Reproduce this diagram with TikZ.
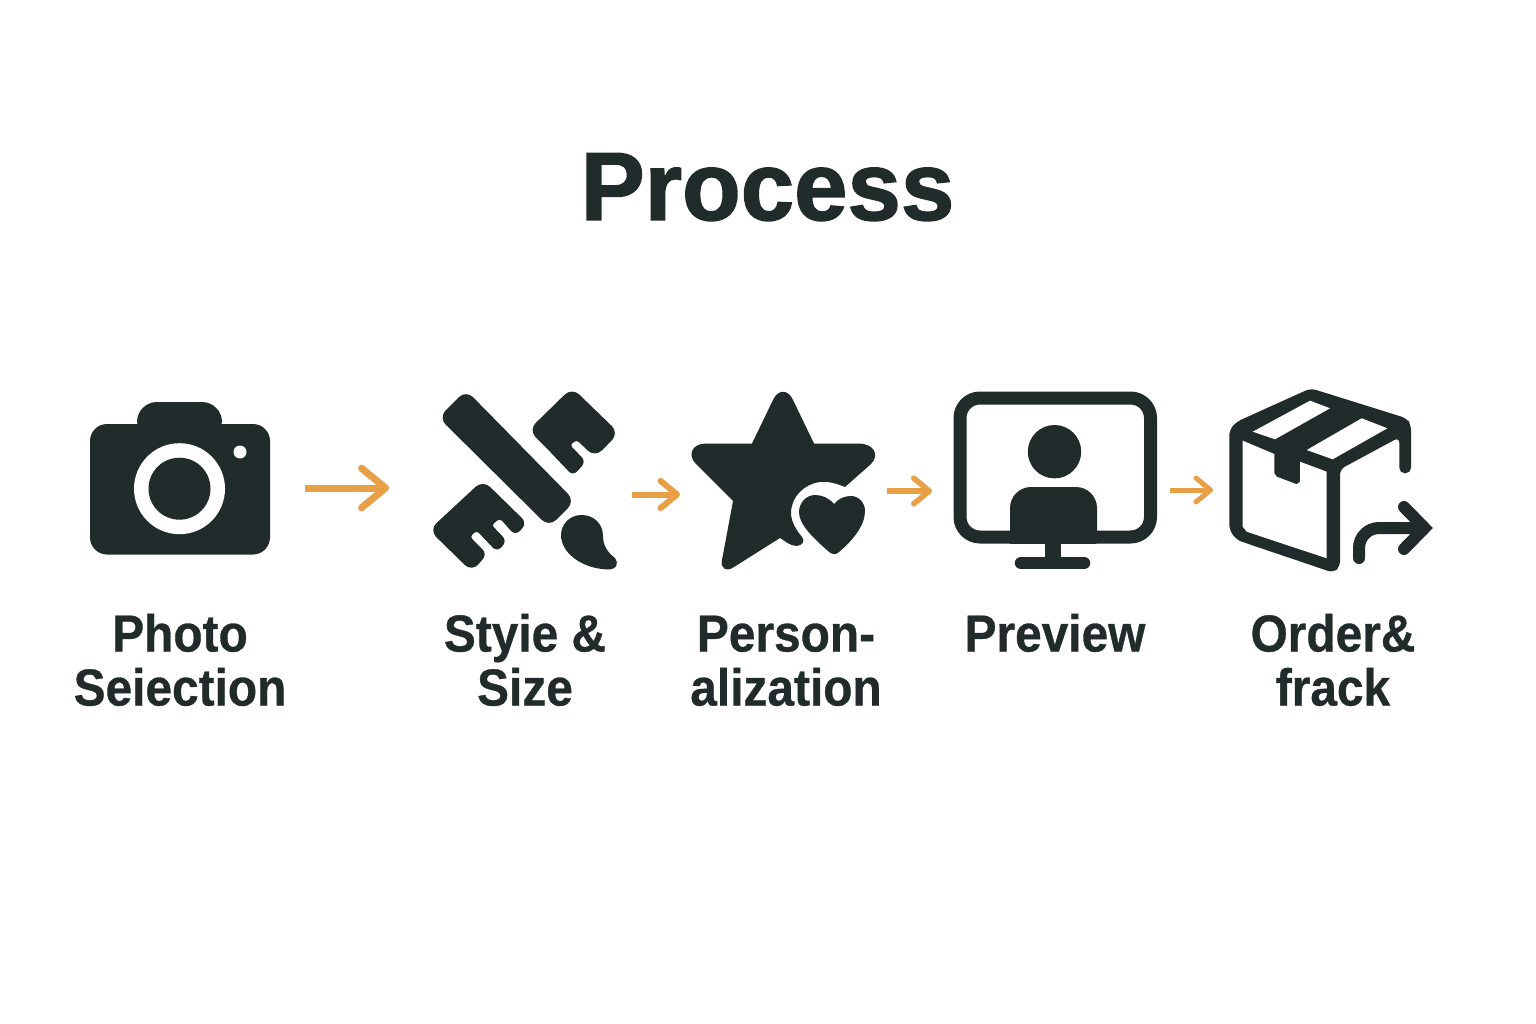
\documentclass[tikz,border=0pt]{standalone}
\usepackage{fontspec}
\setmainfont{Liberation Sans}
\newfontfamily\titlefont[FakeStretch=0.99,FakeBold=1.5]{Liberation Sans Bold}
\newfontfamily\labelfont[FakeStretch=0.92,FakeBold=0.6]{Liberation Sans Bold}
\usepackage{xcolor}
\usetikzlibrary{arrows.meta}

\definecolor{inkdark}{HTML}{222B2B}
\definecolor{flowtone}{HTML}{E89F45}

\tikzset{
    iconfill/.style = {fill = inkdark},
    iconline/.style = {draw = inkdark, line width = 13pt, line join = round, line cap = round},
    steplabel/.style = {color = inkdark, font = \labelfont\fontsize{52}{54}\selectfont, align = center, anchor = base},
    flowarrow/.style 2 args = {draw = flowtone, line width = #1,
        -{Straight Barb[length = #2, width = 1.65*#2, round]}}
}

\begin{document}
\begin{tikzpicture}[x = 1pt, y = -1pt]
        \useasboundingbox (0, 0) rectangle (1536, 1024);

        \node[color = inkdark, font = \titlefont\fontsize{97}{100}\selectfont, anchor = base] (title) at (767.5, 220) {Process};

        % camera
        \fill[iconfill, rounded corners = 17pt] (90, 424) rectangle (270, 554.5);
        \fill[iconfill, rounded corners = 20pt] (137, 440) -- (137, 402) -- (222, 402) -- (222, 440) -- cycle;
        \fill[white] (179.5, 488.7) circle(45.5pt);
        \fill[iconfill] (179.5, 488.7) circle(31pt);
        \fill[white] (240, 452) circle(6.5pt);

        % ruler, pencil and brush
        \fill[iconfill, rounded corners = 10pt] (466, 390) -- (575, 501) -- (549, 527) -- (438.5, 417.5) -- cycle;
        \fill[iconfill] (550, 451.7) [rounded corners = 10pt] -- (528.5, 430) -- (572, 387.5) -- (619, 433) -- (595, 457.5)
            [rounded corners = 3pt] -- (576.7, 440) -- (570, 445) [rounded corners = 6pt] -- (586, 461.5) -- (573, 476)
            -- (550, 451.7);
        \fill[iconfill] (456, 505) [rounded corners = 10pt] -- (483, 480) [rounded corners = 7pt] -- (527, 523) -- (515.5, 536)
            [rounded corners = 3pt] -- (500, 518.5) -- (491.7, 525) [rounded corners = 6pt] -- (507, 541) -- (497, 552)
            [rounded corners = 3pt] -- (476.7, 530.7) -- (470, 536.7) [rounded corners = 6pt] -- (487, 554)
            [rounded corners = 10pt] -- (472, 572) -- (429, 530) -- (456, 505);
        \fill[iconfill] (581.5, 515) .. controls (569, 515) and (561, 525) .. (561, 535)
            .. controls (561, 552) and (580, 568) .. (607, 569.5)
            .. controls (617, 570) and (619, 563) .. (615, 558)
            .. controls (607, 552) and (603, 545) .. (603, 536)
            .. controls (603, 524) and (594, 515) .. (581.5, 515);

        % star with heart
        \fill[iconfill] (752, 443.5) -- (773, 400) .. controls (778, 389) and (788, 389) .. (793, 400)
            -- (814, 443.5) -- (858, 443.5) .. controls (874, 443.5) and (880, 455) .. (871, 464)
            -- (845, 487)
            .. controls (838, 484) and (828, 481) .. (820, 482)
            .. controls (804, 484) and (791, 497) .. (791, 513)
            .. controls (791, 522) and (797, 531) .. (802, 537)
            .. controls (805, 541) and (803, 545) .. (797, 546)
            .. controls (790, 546) and (785, 541) .. (780, 538)
            -- (734, 567) .. controls (727, 572) and (720, 569) .. (722, 560)
            -- (733, 501) -- (696, 464) .. controls (687, 455) and (692, 443.5) .. (706, 443.5) -- cycle;
        \fill[iconfill] (834, 504) .. controls (829, 498) and (822, 495) .. (815, 495)
            .. controls (806, 495) and (799, 503) .. (799, 512)
            .. controls (799, 524) and (812, 537) .. (828, 551)
            .. controls (832, 555) and (836, 555) .. (839, 552)
            .. controls (852, 541) and (865, 526) .. (865, 511)
            .. controls (865, 503) and (859, 496) .. (851, 496)
            .. controls (844, 496) and (838, 499) .. (834, 504);

        % monitor
        \draw[iconline, rounded corners = 20pt] (960, 398) rectangle (1150.5, 537);
        \fill[iconfill] (1054.5, 451.7) circle(26.7pt);
        \fill[iconfill, rounded corners = 21pt] (1010, 560) -- (1010, 487) -- (1097, 487) -- (1097, 560) -- (1010, 560);
        \fill[white] (1000, 544) rectangle (1110, 575);
        \fill[iconfill] (1045, 540) rectangle (1061, 560);
        \draw[iconline, line width = 12.5pt] (1021, 563) -- (1084, 563);

        % parcel
        \fill[iconfill, rounded corners = 5.5pt] (1229.3, 430) -- (1236.7, 421.7) -- (1310.7, 388.3) -- (1406.7, 418.3)
            -- (1411, 425) -- (1411, 473.3) -- (1399.3, 473.3) -- (1399.3, 437.3) -- (1340, 469.3) -- (1340, 566.7)
            -- (1333.3, 572.7) -- (1236.7, 540) -- (1229.3, 530) -- cycle;
        \fill[white] (1252.7, 431.7) -- (1310, 400.7) -- (1330, 408.3) -- (1275, 439.3) -- cycle;
        \fill[white] (1306.7, 450) -- (1361.7, 418.3) -- (1387.3, 428.3) -- (1332.7, 459.3) -- cycle;
        \fill[white] (1242.7, 440.7) -- (1274.3, 454) -- (1274.3, 473.3) -- (1276.7, 476.7) -- (1296.7, 484.3)
            -- (1300, 481.7) -- (1300, 461.7) -- (1326.7, 471.7) -- (1326.7, 558.3) -- (1246.7, 531.7)
            -- (1242.7, 526.7) -- cycle;
        \draw[iconline, line width = 12pt, rounded corners = 20pt] (1359, 558) -- (1359, 528) -- (1424, 528);
        \draw[iconline, line width = 12pt, line join = miter] (1404, 507) -- (1424.5, 528) -- (1404, 549);

        % labels
        \node[steplabel] (photo) at (180, 705.5) {Photo\\Seiection};
        \node[steplabel] (style) at (525, 705.5) {Styie \&\\Size};
        \node[steplabel] (person) at (786, 705.5) {Person-\\alization};
        \node[steplabel] (preview) at (1055, 651.5) {Preview};
        \node[steplabel] (order) at (1333, 705.5) {Order\&\\frack};

        % arrows between the icons
        \coordinate (cameraout) at (305, 488);
        \coordinate (toolsin) at (389, 488);
        \coordinate (toolsout) at (632, 494.5);
        \coordinate (starin) at (680, 494.5);
        \coordinate (starout) at (887, 491);
        \coordinate (monitorin) at (932, 491);
        \coordinate (monitorout) at (1170, 490);
        \coordinate (parcelin) at (1213, 490);
        \draw[flowarrow = {7pt}{24pt}] (cameraout) -- (toolsin);
        \draw[flowarrow = {6pt}{16.5pt}] (toolsout) -- (starin);
        \draw[flowarrow = {5.5pt}{15.5pt}] (starout) -- (monitorin);
        \draw[flowarrow = {5pt}{14.5pt}] (monitorout) -- (parcelin);
    \end{tikzpicture}
\end{document}
